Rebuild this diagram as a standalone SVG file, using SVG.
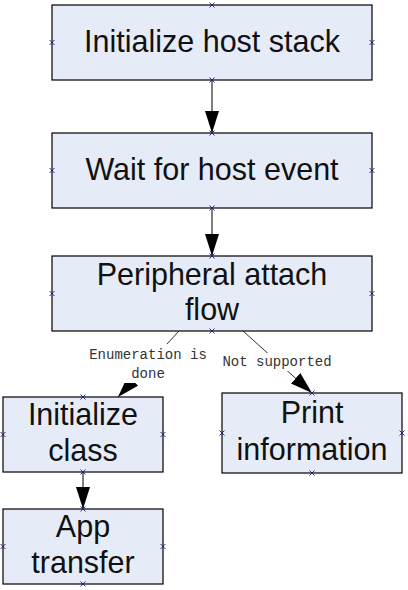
<svg xmlns="http://www.w3.org/2000/svg" width="408" height="590" viewBox="0 0 408 590">
<style>
.box{fill:#E6ECF7;stroke:#000;stroke-width:1.2}
.t{font-family:"Liberation Sans",Arial,sans-serif;font-size:30.5px;fill:#111;text-anchor:middle}
.lbl{font-family:"Liberation Mono","Courier New",monospace;font-size:14px;fill:#333;text-anchor:middle}
.c{stroke:#000;stroke-width:1;fill:none}
.c2{stroke:#333;stroke-width:1;fill:none}
.x{stroke:#1a1a80;stroke-width:0.9;fill:none}
</style>
<defs>
<marker id="ah" markerUnits="userSpaceOnUse" markerWidth="24" markerHeight="16" refX="22" refY="7" orient="auto" viewBox="0 0 24 16">
<path d="M0,0 L22,7 L0,14 Z" fill="#000"/>
</marker>
<path id="xm" d="M-2.5,-2.5 L2.5,2.5 M-2.5,2.5 L2.5,-2.5"/>
</defs>
<g id="connectors">
<line class="c" x1="212" y1="80" x2="212" y2="133" marker-end="url(#ah)"/>
<line class="c" x1="212" y1="208" x2="212" y2="256" marker-end="url(#ah)"/>
<line class="c2" x1="179" y1="331" x2="118" y2="397" marker-end="url(#ah)"/>
<line class="c2" x1="243" y1="331" x2="312" y2="393" marker-end="url(#ah)"/>
<line class="c" x1="83" y1="472" x2="83" y2="509" marker-end="url(#ah)"/>
<rect x="88" y="344" width="120" height="39" fill="#fff"/>
<rect x="220" y="353" width="114" height="18" fill="#fff"/>
<text class="lbl" x="148" y="359">Enumeration is</text>
<text class="lbl" x="148" y="378">done</text>
<text class="lbl" x="277" y="366">Not supported</text>
</g>
<g id="n1">
<rect class="box" x="52" y="5" width="320" height="75"/>
<text class="t" x="212" y="52">Initialize host stack</text>
</g>
<g id="n2">
<rect class="box" x="52" y="133" width="320" height="75"/>
<text class="t" x="212" y="180">Wait for host event</text>
</g>
<g id="n3">
<rect class="box" x="52" y="256" width="320" height="75"/>
<text class="t" x="212" y="285">Peripheral attach</text>
<text class="t" x="212" y="320">flow</text>
</g>
<g id="n4">
<rect class="box" x="3" y="397" width="160" height="75"/>
<text class="t" x="83" y="425">Initialize</text>
<text class="t" x="83" y="461">class</text>
</g>
<g id="n5">
<rect class="box" x="3" y="509" width="160" height="75"/>
<text class="t" x="83" y="537">App</text>
<text class="t" x="83" y="573">transfer</text>
</g>
<g id="n6">
<rect class="box" x="222" y="393" width="180" height="80"/>
<text class="t" x="312" y="423">Print</text>
<text class="t" x="312" y="460">information</text>
</g>
<g id="points" class="x">
<use href="#xm" x="212" y="5"/><use href="#xm" x="212" y="80"/><use href="#xm" x="52" y="42.5"/><use href="#xm" x="372" y="42.5"/>
<use href="#xm" x="212" y="133"/><use href="#xm" x="212" y="208"/><use href="#xm" x="52" y="170.5"/><use href="#xm" x="372" y="170.5"/>
<use href="#xm" x="212" y="256"/><use href="#xm" x="212" y="331"/><use href="#xm" x="52" y="293.5"/><use href="#xm" x="372" y="293.5"/>
<use href="#xm" x="83" y="397"/><use href="#xm" x="83" y="472"/><use href="#xm" x="3" y="434.5"/><use href="#xm" x="163" y="434.5"/>
<use href="#xm" x="83" y="509"/><use href="#xm" x="83" y="584"/><use href="#xm" x="3" y="546.5"/><use href="#xm" x="163" y="546.5"/>
<use href="#xm" x="312" y="393"/><use href="#xm" x="312" y="473"/><use href="#xm" x="222" y="433"/><use href="#xm" x="402" y="433"/>
</g>
</svg>
